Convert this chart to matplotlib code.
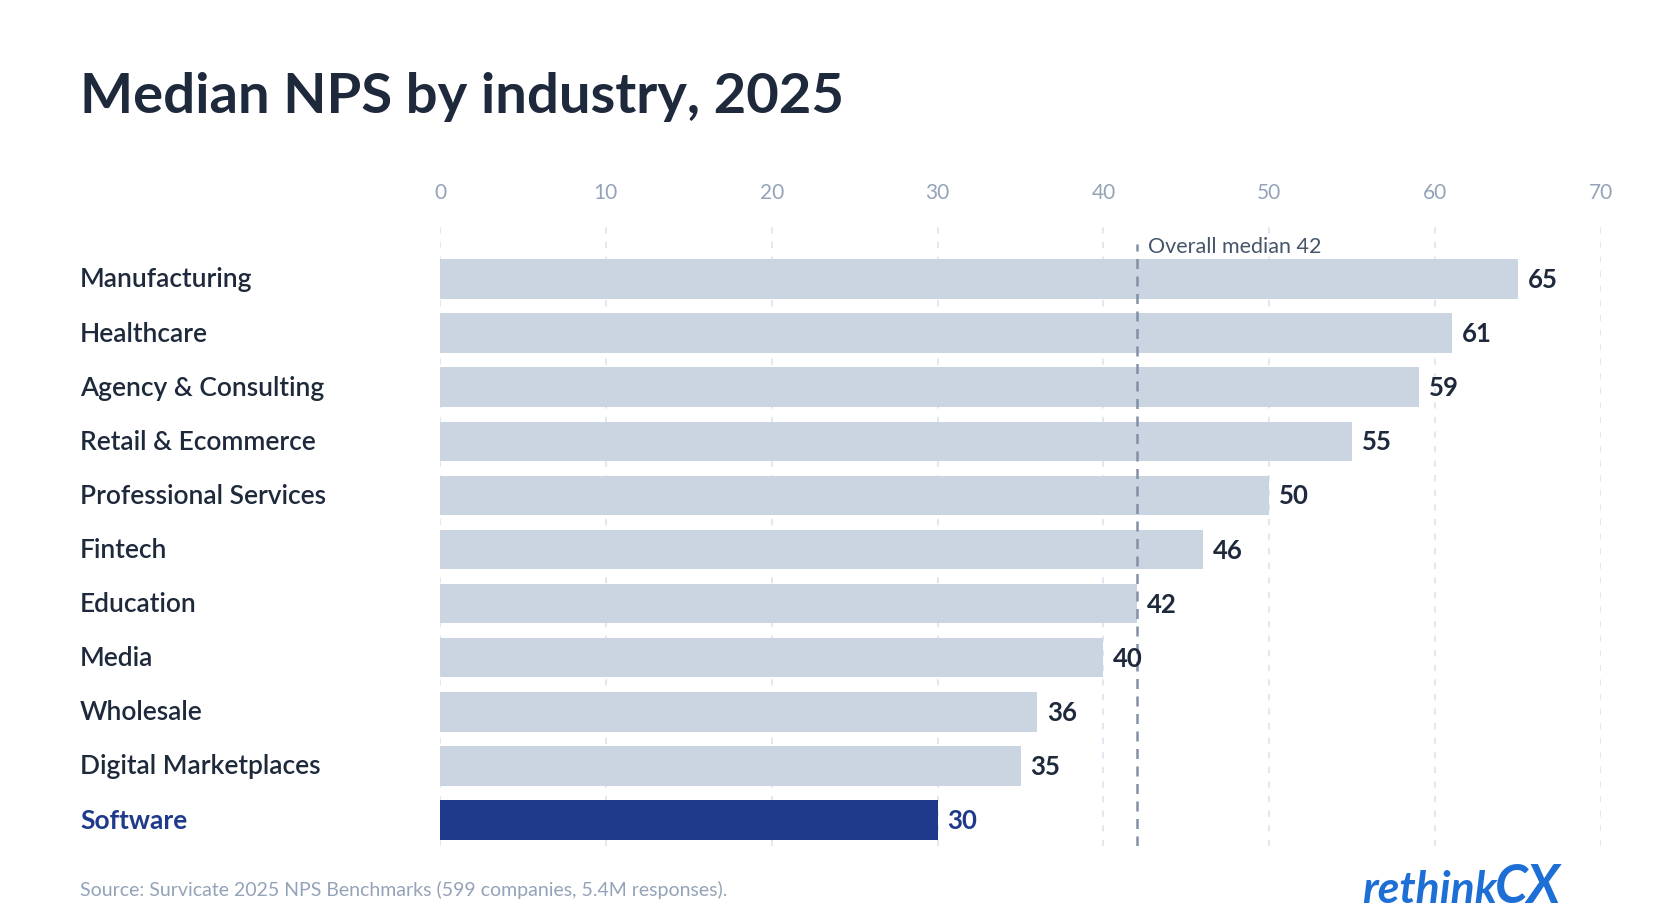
import matplotlib.pyplot as plt

industries = ['Manufacturing', 'Healthcare', 'Agency & Consulting', 'Retail & Ecommerce',
              'Professional Services', 'Fintech', 'Education', 'Media', 'Wholesale',
              'Digital Marketplaces', 'Software']
nps = [65, 61, 59, 55, 50, 46, 42, 40, 36, 35, 30]
highlight = 'Software'
overall_median = 42
ticks = [0, 10, 20, 30, 40, 50, 60, 70]

plt.rcParams['font.family'] = ['Lato', 'DejaVu Sans']

fig = plt.figure(figsize=(16.8, 9.2), dpi=100)
ax = fig.add_axes([440 / 1680, 1 - 847 / 920, (1601 - 440) / 1680, (847 - 220) / 920])

ys = list(range(len(industries)))
colors = ['#1f3a8a' if n == highlight else '#cbd5e1' for n in industries]
ax.barh(ys, nps, height=0.73, color=colors, zorder=2)

for y, v, name in zip(ys, nps, industries):
    c = '#1f3a8a' if name == highlight else '#1e293b'
    ax.text(v + 0.6, y, str(v), va='center', ha='left', fontsize=18.5, fontweight='bold', color=c, zorder=4)

ax.set_xlim(0, 70)
ax.set_ylim(10.48, -1.11)
ax.set_xticks(ticks)
ax.xaxis.tick_top()
ax.tick_params(axis='x', length=0, labelsize=15, labelcolor='#94a3b8', pad=12)
ax.set_yticks([])
for s in ax.spines.values():
    s.set_visible(False)
ax.grid(axis='x', color='#e2e8f0', linestyle=(0, (3, 4)), linewidth=1.5, zorder=0)

ax.axvline(overall_median, color='#8391a7', linestyle=(0, (4, 3)), linewidth=1.8, zorder=3, ymax=0.96)
ax.text(overall_median + 0.7, -0.62, f'Overall median {overall_median}', fontsize=15.5,
        color='#475569', va='center', ha='left')

# category labels in figure coordinates
for y, name in zip(ys, industries):
    c = '#1f3a8a' if name == highlight else '#1e293b'
    fy = 1 - (280 + y * 54.1) / 920
    fig.text(80 / 1680, fy, name, fontsize=19, color=c, va='center', ha='left',
             fontweight='bold' if name == highlight else 'semibold')

fig.text(80 / 1680, 1 - 97 / 920, 'Median NPS by industry, 2025', fontsize=40.5,
         fontweight='bold', color='#1e293b', va='center', ha='left')
fig.text(80 / 1680, 1 - 890 / 920, 'Source: Survicate 2025 NPS Benchmarks (599 companies, 5.4M responses).',
         fontsize=14, color='#94a3b8', va='center', ha='left')
fig.text(1497 / 1680, 1 - 890 / 920, 'rethink', fontsize=32, fontweight='bold', style='italic',
         color='#1d6fd6', va='center', ha='right')
fig.text(1495 / 1680, 1 - 888 / 920, 'CX', fontsize=38, fontweight='bold', style='italic',
         color='#1d6fd6', va='center', ha='left')

fig.savefig('out.png', dpi=100, facecolor='white')
